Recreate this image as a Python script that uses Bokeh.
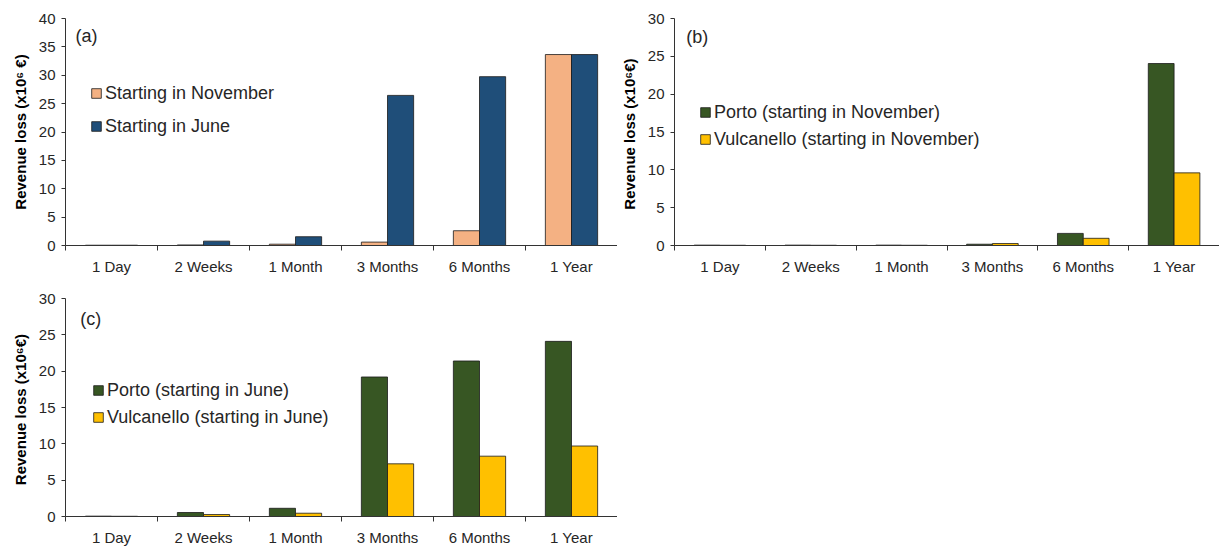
import numpy as np
from bokeh.plotting import figure
from bokeh.models import (ColumnDataSource, FixedTicker, Legend, LegendItem,
                          Label, Range1d)
from bokeh.layouts import column, row
from bokeh.embed import file_html
from bokeh.resources import INLINE

# ---- data (values in 10^6 EUR) ----
periods = ["1 Day", "2 Weeks", "1 Month", "3 Months", "6 Months", "1 Year"]

a_labels = ["Starting in November", "Starting in June"]
a_nov = [0.05, 0.1, 0.23, 0.6, 2.6, 33.65]
a_jun = [0.05, 0.77, 1.55, 26.45, 29.75, 33.65]

b_labels = ["Porto (starting in November)", "Vulcanello (starting in November)"]
b_porto = [0.05, 0.05, 0.05, 0.17, 1.6, 24.05]
b_vulc = [0.03, 0.03, 0.03, 0.26, 0.95, 9.6]

c_labels = ["Porto (starting in June)", "Vulcanello (starting in June)"]
c_porto = [0.05, 0.55, 1.13, 19.2, 21.4, 24.1]
c_vulc = [0.03, 0.27, 0.45, 7.25, 8.3, 9.7]

FONT = "Liberation Sans"
TXT = "#262626"


def make_panel(tag, ylabel, ymax, s1, s2, labels, colors, width, height,
               bl, br, bt, bb, leg_loc, leg_spacing, tag_x, tag_y):
    n = len(periods)
    idx = np.arange(n)
    bw = 0.284
    src = ColumnDataSource(dict(
        x1=idx + 0.5 - bw / 2, x2=idx + 0.5 + bw / 2, s1=s1, s2=s2))
    p = figure(width=width, height=height, output_backend="svg",
               toolbar_location=None, x_range=Range1d(0, n),
               y_range=Range1d(0, ymax),
               min_border_left=bl, min_border_right=br,
               min_border_top=bt, min_border_bottom=bb)
    p.outline_line_color = None
    p.xgrid.visible = False
    p.ygrid.visible = False
    p.background_fill_color = "white"
    p.border_fill_color = "white"

    r1 = p.vbar(x="x1", top="s1", width=bw, source=src,
                fill_color=colors[0], line_color="#1a1a1a", line_width=0.8)
    r2 = p.vbar(x="x2", top="s2", width=bw, source=src,
                fill_color=colors[1], line_color="#1a1a1a", line_width=0.8)

    xa = p.xaxis[0]
    xa.ticker = FixedTicker(ticks=list(idx + 0.5),
                            minor_ticks=list(range(n + 1)))
    xa.major_label_overrides = {float(i + 0.5): periods[i] for i in range(n)}
    xa.major_tick_out = 0
    xa.major_tick_in = 0
    xa.minor_tick_out = 5
    xa.minor_tick_in = 0
    xa.minor_tick_line_color = "#333333"
    xa.axis_line_color = "#333333"
    xa.major_label_text_font = FONT
    xa.major_label_text_font_size = "15px"
    xa.major_label_text_color = TXT
    xa.major_label_standoff = 7

    ya = p.yaxis[0]
    ya.ticker = FixedTicker(ticks=list(range(0, ymax + 1, 5)))
    ya.major_tick_out = 4
    ya.major_tick_in = 0
    ya.minor_tick_out = 0
    ya.minor_tick_in = 0
    ya.axis_line_color = "#333333"
    ya.major_tick_line_color = "#333333"
    ya.major_label_text_font = FONT
    ya.major_label_text_font_size = "15px"
    ya.major_label_text_color = TXT
    ya.major_label_standoff = 6
    ya.axis_label = ylabel
    ya.axis_label_text_font = FONT
    ya.axis_label_text_font_style = "bold"
    ya.axis_label_text_font_size = "15px"
    ya.axis_label_text_color = "#000000"
    ya.axis_label_standoff = 7

    leg = Legend(items=[LegendItem(label=labels[0], renderers=[r1]),
                        LegendItem(label=labels[1], renderers=[r2])],
                 location=leg_loc, orientation="vertical",
                 glyph_width=12, glyph_height=12, label_height=22,
                 label_standoff=3, spacing=leg_spacing, padding=0, margin=0,
                 border_line_color=None, background_fill_alpha=0,
                 label_text_font=FONT, label_text_font_size="18px",
                 label_text_color=TXT)
    p.add_layout(leg, "center")

    p.add_layout(Label(x=tag_x, y=tag_y, text=tag, text_font=FONT,
                       text_font_size="18px", text_color=TXT,
                       text_baseline="middle"))
    return p


pa = make_panel("(a)", "Revenue loss (x10\u2076 \u20ac)", 40, a_nov, a_jun,
                a_labels, ["#F4B183", "#1F4E79"], 617, 288, 65, 0, 18, 43,
                (25, 108), 11, 0.11, 37.0)
pb = make_panel("(b)", "Revenue  loss (x10\u2076\u20ac)", 30, b_porto, b_vulc,
                b_labels, ["#375623", "#FFC000"], 602, 288, 54, 0, 18, 43,
                (25, 95), 5, 0.13, 27.5)
pc = make_panel("(c)", "Revenue  loss (x10\u2076\u20ac)", 30, c_porto, c_vulc,
                c_labels, ["#375623", "#FFC000"], 617, 260, 65, 0, 10, 27,
                (27, 88), 5, 0.16, 27.2)

layout = column(row(pa, pb, spacing=0), pc, spacing=0)
open("out.html", "w").write(file_html(layout, INLINE))
